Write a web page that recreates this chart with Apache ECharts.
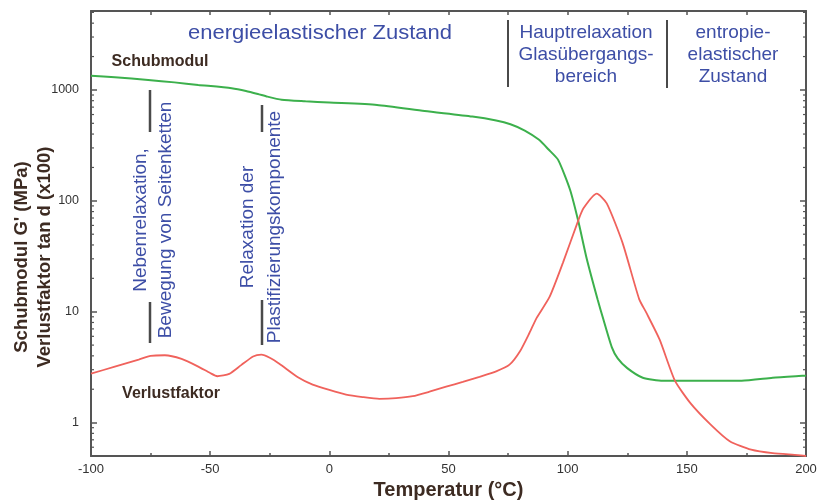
<!DOCTYPE html>
<html>
<head>
<meta charset="utf-8">
<script src="https://cdn.jsdelivr.net/npm/echarts@6/dist/echarts.min.js"></script>
<style>
html,body{margin:0;padding:0;background:#fff;}
#c{width:824px;height:500px;}
</style>
</head>
<body>
<div id="c"></div>
<script>
// Schubmodul G' (MPa)
const tempG  = [-100, -90, -76, -65, -55, -41, -35, -30, -26, -20, -10, 0, 20, 40, 60, 70, 76, 82, 88, 92, 96, 101, 104.5, 108, 112.6, 115, 118.5, 121, 125, 131.5, 140, 173, 186, 197, 200];
const modulG = [1340, 1300, 1230, 1170, 1110, 1035, 980, 920, 870, 815, 790, 770, 733, 645, 575, 530, 490, 430, 355, 290, 234, 126, 65, 30, 12.8, 8.5, 4.8, 3.8, 3.1, 2.54, 2.39, 2.39, 2.54, 2.63, 2.65];
// Verlustfaktor tan d (x100)
const tempV  = [-100, -90, -80, -75, -69, -62, -55, -50, -47, -42, -37, -32, -28.5, -25, -21, -13, -7, 0, 7, 14, 21, 28, 35, 42, 49, 56, 63, 70, 75.6, 80, 84, 87, 92.4, 98, 104.5, 106.7, 112.2, 116.4, 123, 130, 133, 138.6, 145, 151.5, 160, 168, 177, 186, 196.6, 200];
const lossV  = [2.76, 3.2, 3.7, 4.0, 4.05, 3.75, 3.2, 2.8, 2.62, 2.75, 3.3, 3.95, 4.1, 3.85, 3.4, 2.55, 2.2, 1.97, 1.79, 1.7, 1.64, 1.66, 1.73, 1.9, 2.11, 2.33, 2.59, 2.9, 3.33, 4.4, 6.46, 8.8, 13.6, 27.6, 67, 86, 116, 95, 42, 13, 9.8, 5.6, 2.39, 1.5, 0.96, 0.68, 0.57, 0.53, 0.51, 0.5];
// axis ticks
const xMin = -100, xMax = 200, xStep = 50;
const yMin = 0.5, yMax = 5150;
const yDecades = [0.1, 1, 10, 100, 1000];
const yMinorSteps = [2, 3, 4, 5, 6, 7, 8, 9];

const minorVals = [];
yDecades.forEach(d => yMinorSteps.forEach(m => {
  const v = d * m;
  if (v > yMin && v < yMax) minorVals.push(v);
}));

const chart = echarts.init(document.getElementById('c'));
const axisCol = '#555';
const blue = '#3d4ea6';
const brown = '#3d2b22';
const pairs = (xs, ys) => xs.map((x, i) => [x, ys[i]]);

function txt(x, y, text, opts) {
  opts = opts || {};
  const font = opts.font || '19px "Liberation Sans", Arial, sans-serif';
  return {
    type: 'text', x: x, y: y, rotation: opts.rotation || 0,
    scaleX: opts.scaleX || 1,
    silent: true,
    style: {
      text: text, font: font, fill: opts.fill || blue,
      textAlign: 'center', textVerticalAlign: 'middle',
      align: 'center', verticalAlign: 'middle',
      lineHeight: opts.lineHeight || 22
    }
  };
}
function seg(x1, y1, x2, y2, w) {
  return { type: 'line', silent: true, shape: {x1: x1, y1: y1, x2: x2, y2: y2},
           style: {stroke: '#4a4a4a', lineWidth: w || 2} };
}

const labelFontX = {color: '#333', fontSize: 13, fontFamily: '"Liberation Sans", Arial, sans-serif'};
const labelFontY = {color: '#333', fontSize: 12.5, fontFamily: '"Liberation Sans Narrow", "Liberation Sans", Arial, sans-serif'};

chart.setOption({
  animation: false,
  backgroundColor: '#fff',
  grid: {left: 91, right: 18, top: 11, bottom: 44, containLabel: false, outerBoundsMode: 'none'},
  xAxis: [{
    type: 'value', min: xMin, max: xMax, interval: xStep, position: 'bottom',
    axisLine: {onZero: false, lineStyle: {color: axisCol, width: 2}},
    axisTick: {inside: true, length: 5, lineStyle: {color: axisCol, width: 1.5}},
    minorTick: {show: true, splitNumber: 2, length: 3, lineStyle: {color: axisCol, width: 1.5}},
    splitLine: {show: false},
    axisLabel: Object.assign({margin: 7}, labelFontX),
    name: 'Temperatur (°C)', nameLocation: 'middle', nameGap: 22,
    nameTextStyle: {color: brown, fontSize: 20, fontWeight: 'bold', fontFamily: '"Liberation Sans", Arial, sans-serif', verticalAlign: 'top'}
  }, {
    type: 'value', min: xMin, max: xMax, interval: xStep / 2, position: 'top',
    axisLine: {onZero: false, lineStyle: {color: axisCol, width: 2}},
    axisTick: {inside: true, length: 4, lineStyle: {color: axisCol, width: 1.5}},
    splitLine: {show: false}, axisLabel: {show: false}
  }],
  yAxis: [{
    type: 'log', logBase: 10, min: yMin, max: yMax, position: 'left',
    axisLine: {show: true, onZero: false, lineStyle: {color: axisCol, width: 2}},
    axisTick: {show: true, inside: true, length: 6, lineStyle: {color: axisCol, width: 1.5}},
    splitLine: {show: false},
    axisLabel: Object.assign({margin: 12, showMinLabel: false, showMaxLabel: false,
      formatter: v => String(Math.round(v))}, labelFontY)
  }, {
    type: 'log', logBase: 10, min: yMin, max: yMax, position: 'right',
    axisLine: {show: true, onZero: false, lineStyle: {color: axisCol, width: 2}},
    axisTick: {show: true, inside: true, length: 6, lineStyle: {color: axisCol, width: 1.5}},
    splitLine: {show: false}, axisLabel: {show: false}
  }],
  series: [{
    name: 'minorTicks', type: 'custom', silent: true, clip: false,
    xAxisIndex: 0, yAxisIndex: 0,
    data: minorVals.map(v => [xMin, v]),
    encode: {x: 0, y: 1},
    renderItem: function (params, api) {
      const v = api.value(1);
      const pl = api.coord([xMin, v]);
      const pr = api.coord([xMax, v]);
      const st = {stroke: axisCol, lineWidth: 1.2};
      return {
        type: 'group',
        children: [
          {type: 'line', shape: {x1: pl[0], y1: pl[1], x2: pl[0] + 3, y2: pl[1]}, style: st},
          {type: 'line', shape: {x1: pr[0] - 3, y1: pr[1], x2: pr[0], y2: pr[1]}, style: st}
        ]
      };
    },
    z: 1
  }, {
    name: 'Schubmodul', type: 'line', data: pairs(tempG, modulG),
    showSymbol: false, smooth: 0.2,
    lineStyle: {color: '#3cb04c', width: 2}, z: 3
  }, {
    name: 'Verlustfaktor', type: 'line', data: pairs(tempV, lossV),
    showSymbol: false, smooth: 0.2,
    lineStyle: {color: '#f0625c', width: 1.8}, z: 3
  }],
  graphic: [
    txt(33, 257, "Schubmodul G' (MPa)\nVerlustfaktor tan d (x100)",
        {rotation: Math.PI / 2, fill: brown, lineHeight: 23, font: 'bold 18.5px "Liberation Sans", Arial, sans-serif'}),
    txt(160, 62, 'Schubmodul', {fill: brown, font: 'bold 16px "Liberation Sans", Arial, sans-serif'}),
    txt(171, 394, 'Verlustfaktor', {fill: brown, font: 'bold 16px "Liberation Sans", Arial, sans-serif'}),
    txt(320, 33, 'energieelastischer Zustand', {scaleX: 1.1, font: '20px "Liberation Sans", Arial, sans-serif'}),
    txt(586, 55, 'Hauptrelaxation\nGlasübergangs-\nbereich', {lineHeight: 22}),
    txt(733, 55, 'entropie-\nelastischer\nZustand', {lineHeight: 22}),
    txt(153, 220, 'Nebenrelaxation,\nBewegung von Seitenketten', {rotation: Math.PI / 2, lineHeight: 25}),
    txt(261.5, 227, 'Relaxation der\nPlastifizierungskomponente', {rotation: Math.PI / 2, lineHeight: 27}),
    seg(508, 20, 508, 87, 2),
    seg(667, 20, 667, 88, 2),
    seg(150, 90, 150, 132, 2.5),
    seg(150, 302, 150, 343, 2.5),
    seg(262, 105, 262, 132, 2.5),
    seg(262, 300, 262, 345, 2.5)
  ]
});
</script>
</body>
</html>
